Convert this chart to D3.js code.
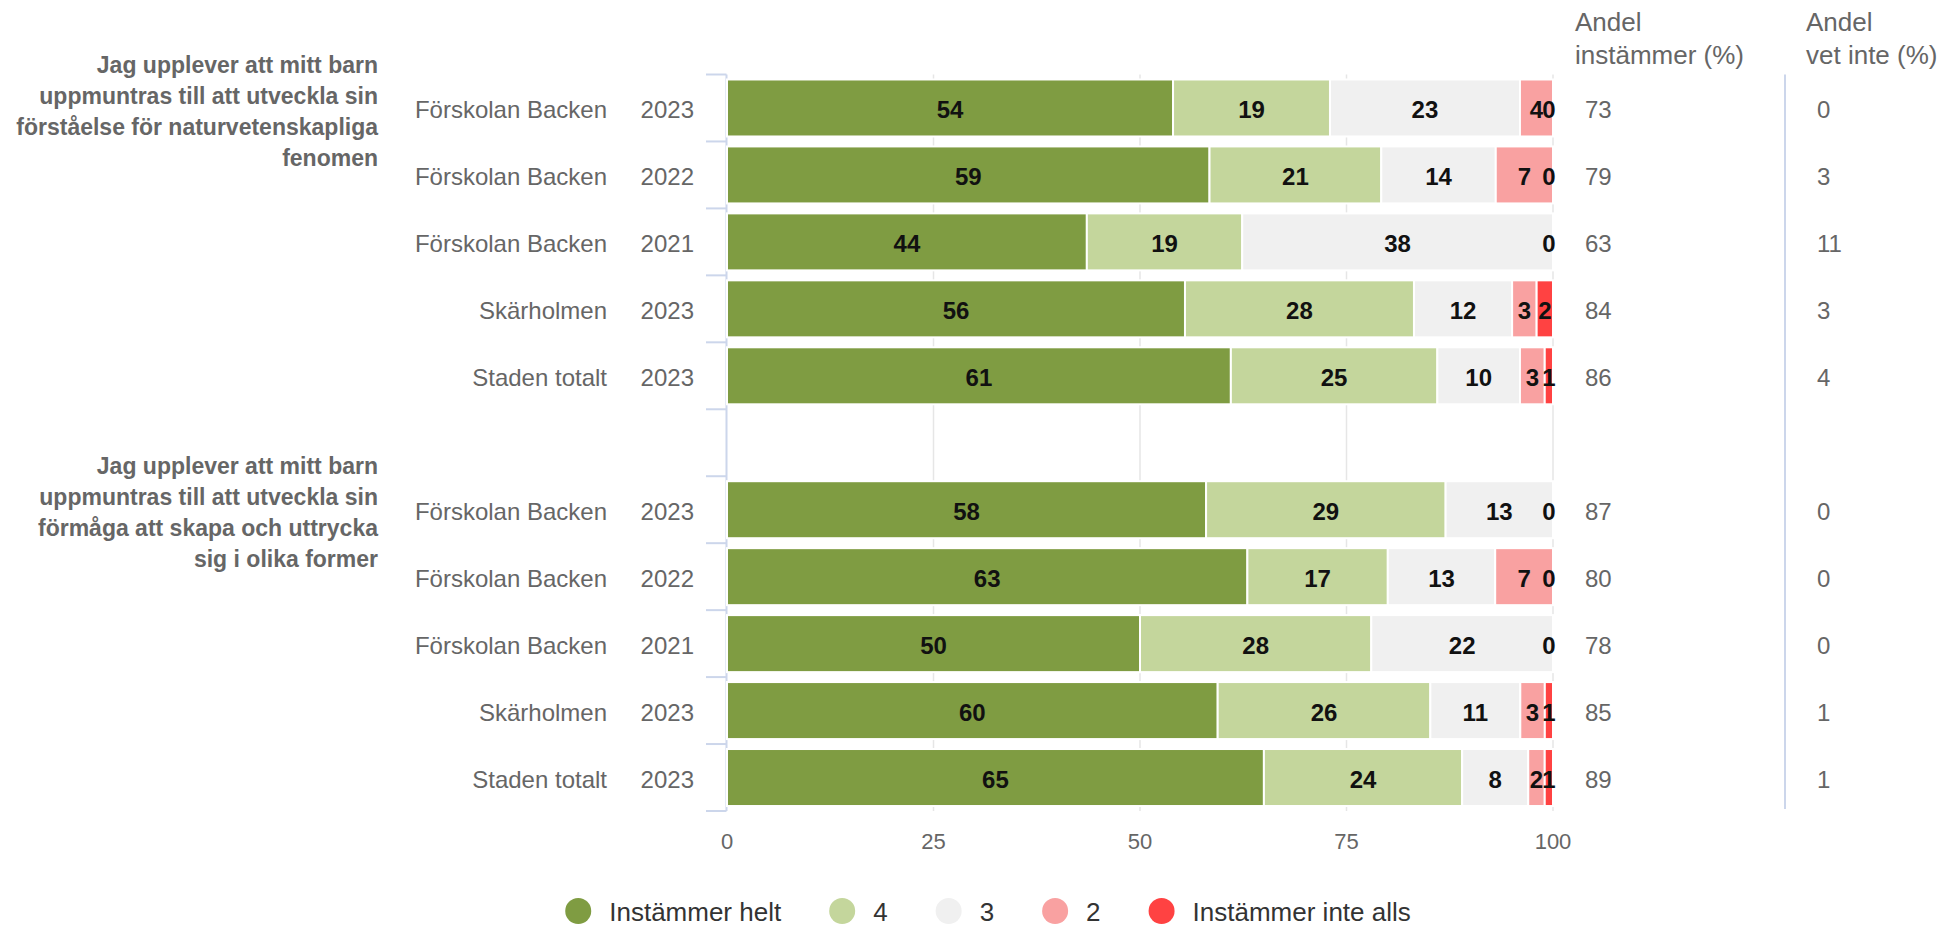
<!DOCTYPE html>
<html>
<head>
<meta charset="utf-8">
<script src="https://cdn.jsdelivr.net/npm/d3@7"></script>
<style>
  html, body { margin: 0; padding: 0; background: #fff; }
  svg { display: block; font-family: "Liberation Sans", Arial, Helvetica, sans-serif; }
</style>
</head>
<body>
<svg id="chart" width="1944" height="926"></svg>
<script>
// ---------- DATA ----------
const groupTitles = [
  ["Jag upplever att mitt barn", "uppmuntras till att utveckla sin", "förståelse för naturvetenskapliga", "fenomen"],
  ["Jag upplever att mitt barn", "uppmuntras till att utveckla sin", "förmåga att skapa och uttrycka", "sig i olika former"]
];
const units = ["Förskolan Backen", "Förskolan Backen", "Förskolan Backen", "Skärholmen", "Staden totalt",
               "Förskolan Backen", "Förskolan Backen", "Förskolan Backen", "Skärholmen", "Staden totalt"];
const years = ["2023", "2022", "2021", "2023", "2023", "2023", "2022", "2021", "2023", "2023"];
const groupOfRow = [0, 0, 0, 0, 0, 1, 1, 1, 1, 1];
const seriesNames = ["Instämmer helt", "4", "3", "2", "Instämmer inte alls"];
const instammerHelt = [54, 59, 44, 56, 61, 58, 63, 50, 60, 65];
const varde4        = [19, 21, 19, 28, 25, 29, 17, 28, 26, 24];
const varde3        = [23, 14, 38, 12, 10, 13, 13, 22, 11, 8];
const varde2        = [4, 7, null, 3, 3, null, 7, null, 3, 2];
const instammerInteAlls = [0, 0, 0, 2, 1, 0, 0, 0, 1, 1];
const andelInstammer = [73, 79, 63, 84, 86, 87, 80, 78, 85, 89];
const andelVetInte   = [0, 3, 11, 3, 4, 0, 0, 0, 1, 1];
const xTicks = [0, 25, 50, 75, 100];
const headerInstammer = ["Andel", "instämmer (%)"];
const headerVetInte = ["Andel", "vet inte (%)"];
const colors = ["#7f9c42", "#c4d69c", "#f0f0f0", "#f9a1a1", "#ff4242"];

// ---------- LAYOUT ----------
const svg = d3.select("#chart");
const plotL = 727, plotR = 1553, plotT = 74.5, plotB = 811;
const seriesValues = [instammerHelt, varde4, varde3, varde2, instammerInteAlls];

// row slot: group 0 rows 0-4, spacer 5, group 1 rows 6-10
const slotOf = i => groupOfRow[i] * 6 + (i % 5);
const y = d3.scaleBand().domain(d3.range(11)).range([plotT, plotB]).padding(0);
const barH = 57;
const x = d3.scaleLinear().domain([0, 100]).range([plotL, plotR]);

// gridlines
svg.append("g").selectAll("line").data(xTicks.filter(t => t > 0)).join("line")
  .attr("x1", d => x(d)).attr("x2", d => x(d))
  .attr("y1", plotT).attr("y2", plotB)
  .attr("stroke", "#e6e6e6").attr("stroke-width", 1.5);

// y axis line + ticks
const axisG = svg.append("g");
axisG.append("line").attr("x1", plotL - 0.5).attr("x2", plotL - 0.5)
  .attr("y1", plotT).attr("y2", plotB).attr("stroke", "#ccd6eb").attr("stroke-width", 2);
const boundaries = d3.range(12).map(k => plotT + k * y.step());
axisG.selectAll("line.tick").data(boundaries).join("line").attr("class", "tick")
  .attr("x1", plotL - 21).attr("x2", plotL - 0.5)
  .attr("y1", d => d).attr("y2", d => d)
  .attr("stroke", "#ccd6eb").attr("stroke-width", 2);

// stacked (percent) data
const rows = d3.range(units.length).map(i => {
  const vals = seriesValues.map(s => s[i]);
  const total = d3.sum(vals.map(v => v || 0));
  let cum = 0;
  return vals.map((v, k) => {
    const start = cum / total * 100;
    cum += (v || 0);
    const end = cum / total * 100;
    return { row: i, k, v, start, end };
  });
});

const barsG = svg.append("g");
rows.forEach((segs, i) => {
  const y0 = y(slotOf(i)) + (y.step() - barH) / 2;
  barsG.selectAll(null).data(segs.filter(s => s.v !== null && s.v > 0)).join("rect")
    .attr("x", d => x(d.start)).attr("width", d => Math.max(0, x(d.end) - x(d.start)))
    .attr("y", y0).attr("height", barH)
    .attr("fill", d => colors[d.k]).attr("stroke", "#fff").attr("stroke-width", 2);
  barsG.selectAll(null).data(segs.filter(s => s.v !== null)).join("text")
    .attr("x", d => Math.min((x(d.start) + x(d.end)) / 2, plotR - 4))
    .attr("y", y0 + barH / 2 + 2)
    .attr("text-anchor", "middle").attr("dominant-baseline", "central")
    .attr("font-size", 24).attr("font-weight", "bold").attr("fill", "#111")
    .text(d => d.v);
});

// category labels
const labG = svg.append("g").attr("fill", "#666").attr("font-size", 24);
units.forEach((u, i) => {
  const cy = y(slotOf(i)) + y.step() / 2 + 2;
  labG.append("text").attr("x", 607).attr("y", cy).attr("text-anchor", "end")
    .attr("dominant-baseline", "central").text(u);
  labG.append("text").attr("x", 694).attr("y", cy).attr("text-anchor", "end")
    .attr("dominant-baseline", "central").text(years[i]);
  labG.append("text").attr("x", 1585).attr("y", cy)
    .attr("dominant-baseline", "central").text(andelInstammer[i]);
  labG.append("text").attr("x", 1817).attr("y", cy)
    .attr("dominant-baseline", "central").text(andelVetInte[i]);
});

// group titles
groupTitles.forEach((lines, g) => {
  const top = y(g * 6);
  const t = svg.append("text").attr("fill", "#666").attr("font-size", 23).attr("font-weight", "bold")
    .attr("text-anchor", "end");
  lines.forEach((ln, j) => {
    t.append("tspan").attr("x", 378).attr("y", top - 2 + j * 31).text(ln);
  });
});

// column headers
[[headerInstammer, 1575], [headerVetInte, 1806]].forEach(([lines, hx]) => {
  lines.forEach((ln, j) => {
    svg.append("text").attr("x", hx).attr("y", 31 + j * 33).attr("fill", "#666")
      .attr("font-size", 26).text(ln);
  });
});
// separator
svg.append("line").attr("x1", 1785).attr("x2", 1785).attr("y1", plotT).attr("y2", plotB - 2)
  .attr("stroke", "#ccd6eb").attr("stroke-width", 2);

// x axis labels
svg.append("g").selectAll("text").data(xTicks).join("text")
  .attr("x", d => x(d)).attr("y", 849).attr("text-anchor", "middle")
  .attr("fill", "#666").attr("font-size", 22).text(d => d);

// legend
const legG = svg.append("g").attr("font-size", 26).attr("fill", "#333");
const items = legG.selectAll("g").data(seriesNames).join("g");
items.append("circle").attr("r", 13).attr("cy", 0).attr("fill", (d, k) => colors[k]);
items.append("text").attr("x", 31).attr("dominant-baseline", "central").attr("y", 1).text(d => d);
let cx = 0;
const offsets = [];
items.each(function () {
  offsets.push(cx);
  const w = d3.select(this).select("text").node().getComputedTextLength();
  cx += 31 + w + 61;
});
const totalW = cx - 61 + 13;
const startX = 988 - totalW / 2 + 13;
items.attr("transform", (d, k) => `translate(${offsets[k] + startX},911)`);
</script>
</body>
</html>
